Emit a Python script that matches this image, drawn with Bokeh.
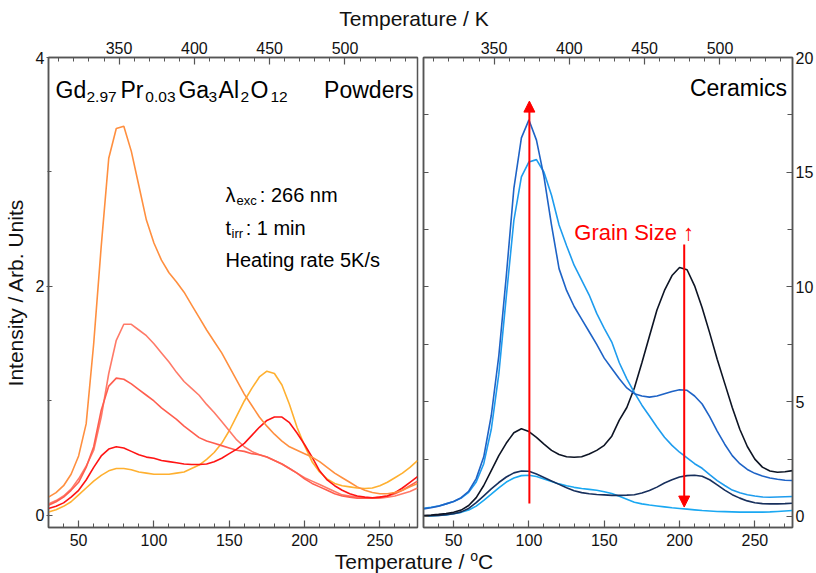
import math
from bokeh.plotting import figure
from bokeh.models import Range1d, LinearAxis, FixedTicker, Label, Arrow, NormalHead, Div
from bokeh.layouts import row, column
from bokeh.embed import file_html
from bokeh.resources import INLINE

FONT = "Liberation Sans"

# ---------------- data ----------------
temps_c = [30, 35, 40, 45, 50, 55, 60, 65, 70, 75, 80, 85, 90, 95, 100, 105, 110, 115, 120, 125,
           130, 135, 140, 145, 150, 155, 160, 165, 170, 175, 180, 185, 190, 195, 200, 205, 210, 215, 220, 225,
           230, 235, 240, 245, 250, 255, 260, 265, 270, 275]

# Powders (left panel)
powder_orange = [0.16, 0.2, 0.26, 0.36, 0.52, 0.8, 1.5, 2.35, 3.12, 3.38, 3.4, 3.18, 2.88, 2.58, 2.38, 2.23, 2.12, 2.04, 1.95, 1.84,
                 1.73, 1.62, 1.52, 1.42, 1.3, 1.18, 1.06, 0.96, 0.86, 0.78, 0.71, 0.65, 0.6, 0.57, 0.54, 0.51, 0.47, 0.42, 0.37, 0.33,
                 0.29, 0.25, 0.22, 0.2, 0.19, 0.19, 0.2, 0.22, 0.25, 0.28]
powder_salmon_a = [0.1, 0.13, 0.17, 0.23, 0.32, 0.43, 0.57, 0.86, 1.24, 1.53, 1.67, 1.67, 1.62, 1.57, 1.5, 1.42, 1.34, 1.25, 1.17, 1.11,
                   1.05, 0.97, 0.9, 0.82, 0.74, 0.66, 0.6, 0.56, 0.53, 0.51, 0.48, 0.45, 0.41, 0.37, 0.33, 0.3, 0.27, 0.24, 0.21, 0.18,
                   0.17, 0.16, 0.15, 0.15, 0.15, 0.16, 0.17, 0.19, 0.21, 0.24]
powder_salmon_b = [0.09, 0.12, 0.16, 0.22, 0.29, 0.42, 0.6, 0.92, 1.13, 1.2, 1.19, 1.15, 1.1, 1.05, 1.0, 0.94, 0.89, 0.84, 0.78, 0.73,
                   0.68, 0.65, 0.63, 0.61, 0.59, 0.57, 0.56, 0.54, 0.53, 0.51, 0.48, 0.45, 0.41, 0.37, 0.32, 0.28, 0.25, 0.22, 0.19, 0.17,
                   0.16, 0.15, 0.15, 0.15, 0.16, 0.17, 0.19, 0.22, 0.26, 0.3]
powder_red = [0.06, 0.08, 0.11, 0.16, 0.22, 0.31, 0.42, 0.52, 0.58, 0.6, 0.59, 0.56, 0.53, 0.51, 0.5, 0.48, 0.47, 0.46, 0.45, 0.445,
              0.445, 0.45, 0.47, 0.5, 0.54, 0.58, 0.63, 0.7, 0.77, 0.83, 0.86, 0.86, 0.81, 0.72, 0.62, 0.51, 0.39, 0.31, 0.26, 0.22,
              0.19, 0.17, 0.16, 0.155, 0.16, 0.17, 0.2, 0.24, 0.29, 0.34]
powder_yellow = [0.03, 0.05, 0.08, 0.12, 0.18, 0.24, 0.3, 0.35, 0.39, 0.41, 0.41, 0.4, 0.38, 0.37, 0.36, 0.36, 0.36, 0.37, 0.38, 0.41,
                 0.44, 0.49, 0.55, 0.63, 0.74, 0.87, 1.0, 1.11, 1.21, 1.26, 1.24, 1.14, 0.97, 0.77, 0.61, 0.47, 0.38, 0.32, 0.28, 0.26,
                 0.25, 0.24, 0.235, 0.24, 0.26, 0.29, 0.33, 0.37, 0.42, 0.48]

# Ceramics (right panel)
ceramic_blue = [0.33, 0.38, 0.45, 0.55, 0.65, 0.82, 1.1, 1.65, 2.6, 4.4, 7.0, 10.5, 14.3, 16.5, 17.28, 16.4, 14.8, 12.7, 10.8, 9.85,
                9.15, 8.6, 8.05, 7.5, 6.9, 6.45, 6.0, 5.6, 5.35, 5.25, 5.2, 5.25, 5.35, 5.45, 5.52, 5.5, 5.25, 4.9, 4.35, 3.72,
                3.15, 2.65, 2.3, 2.05, 1.88, 1.76, 1.68, 1.62, 1.58, 1.57]
ceramic_light = [0.36, 0.4, 0.46, 0.55, 0.65, 0.8, 1.05, 1.5, 2.3, 3.8, 6.2, 9.6, 12.9, 14.8, 15.45, 15.55, 15.0, 14.0, 12.7, 11.8,
                 10.95, 10.3, 9.65, 8.85, 8.2, 7.6, 6.7, 6.0, 5.4, 4.85, 4.38, 3.9, 3.45, 3.1, 2.8, 2.55, 2.3, 2.1, 1.82, 1.56,
                 1.35, 1.15, 1.03, 0.95, 0.89, 0.85, 0.84, 0.85, 0.86, 0.87]
ceramic_black = [0.04, 0.06, 0.09, 0.13, 0.18, 0.28, 0.48, 0.82, 1.35, 2.0, 2.65, 3.2, 3.65, 3.82, 3.7, 3.45, 3.15, 2.88, 2.7, 2.6,
                 2.58, 2.6, 2.72, 2.88, 3.1, 3.5, 4.2, 4.75, 5.6, 6.7, 7.85, 9.0, 9.85, 10.5, 10.85, 10.75, 10.05, 9.1, 8.0, 6.85,
                 5.8, 4.75, 3.8, 3.05, 2.5, 2.15, 1.98, 1.93, 1.95, 2.0]
ceramic_navy = [0.02, 0.03, 0.05, 0.08, 0.12, 0.2, 0.35, 0.6, 0.9, 1.2, 1.48, 1.72, 1.9, 1.98, 1.97, 1.85, 1.7, 1.55, 1.4, 1.25,
                1.12, 1.04, 0.99, 0.96, 0.94, 0.92, 0.92, 0.93, 0.95, 1.02, 1.13, 1.28, 1.46, 1.6, 1.72, 1.78, 1.8, 1.75, 1.6, 1.38,
                1.15, 0.95, 0.8, 0.68, 0.6, 0.56, 0.55, 0.55, 0.56, 0.58]
ceramic_cyan = [0.01, 0.02, 0.04, 0.07, 0.12, 0.18, 0.28, 0.45, 0.7, 0.97, 1.25, 1.5, 1.68, 1.78, 1.8, 1.74, 1.63, 1.52, 1.42, 1.34,
                1.27, 1.22, 1.18, 1.14, 1.08, 1.0, 0.88, 0.75, 0.62, 0.55, 0.5, 0.46, 0.42, 0.38, 0.35, 0.32, 0.29, 0.26, 0.24, 0.22,
                0.21, 0.2, 0.19, 0.19, 0.19, 0.19, 0.2, 0.22, 0.24, 0.26]

# ticks
x_ticks_c = [50, 100, 150, 200, 250]
x_minor_c = [30, 40, 60, 70, 80, 90, 110, 120, 130, 140, 160, 170, 180, 190, 210, 220, 230, 240, 260, 270]
k_ticks = [350, 400, 450, 500]
k_minor = [310, 320, 330, 340, 360, 370, 380, 390, 410, 420, 430, 440, 460, 470, 480, 490, 510, 520, 530, 540]
left_y_ticks = [0, 2, 4]
left_y_minor = [1, 3]
right_y_ticks = [0, 5, 10, 15, 20]
right_y_minor = [2.5, 7.5, 12.5, 17.5]

# arrows (right panel, data units)
arrow_up = dict(x=100.3, y0=0.57, y1=18.1)
arrow_down = dict(x=203.1, y0=11.85, y1=0.41)

C0, C1 = 30, 275
K_OFFSET = 273.15

AX_COLOR = "#555555"


def style_axis(ax, tick_in=7, tick_out=0, minor_in=4, minor_out=0, standoff=6):
    ax.axis_line_color = AX_COLOR
    ax.axis_line_width = 1.5
    ax.major_tick_line_color = AX_COLOR
    ax.major_tick_line_width = 1.2
    ax.minor_tick_line_color = AX_COLOR
    ax.minor_tick_line_width = 1.0
    ax.major_tick_in = tick_in
    ax.major_tick_out = tick_out
    ax.minor_tick_in = minor_in
    ax.minor_tick_out = minor_out
    ax.major_label_text_font = FONT
    ax.major_label_text_font_size = "16px"
    ax.major_label_text_color = "#111111"
    ax.major_label_standoff = standoff


def make_fig(width, y_range, bl, br):
    p = figure(width=width, height=523, x_range=Range1d(C0, C1), y_range=y_range,
               output_backend="svg", toolbar_location=None,
               x_axis_location=None, y_axis_location=None,
               min_border_left=bl, min_border_right=br, min_border_top=27, min_border_bottom=26)
    p.grid.visible = False
    p.outline_line_color = AX_COLOR
    p.outline_line_width = 1.5
    p.background_fill_color = "white"
    p.border_fill_color = "white"
    p.extra_x_ranges = {"K": Range1d(C0 + K_OFFSET, C1 + K_OFFSET)}
    bottom = LinearAxis(ticker=FixedTicker(ticks=x_ticks_c, minor_ticks=x_minor_c))
    style_axis(bottom, standoff=6)
    p.add_layout(bottom, "below")
    top = LinearAxis(x_range_name="K", ticker=FixedTicker(ticks=k_ticks, minor_ticks=k_minor))
    style_axis(top, standoff=4)
    p.add_layout(top, "above")
    return p


# ---------------- left panel ----------------
p1 = make_fig(420, Range1d(-0.105, 4), 48, 3)
ly = LinearAxis(ticker=FixedTicker(ticks=left_y_ticks, minor_ticks=left_y_minor),
                axis_label="Intensity / Arb. Units")
style_axis(ly, tick_in=4, tick_out=2, minor_in=3, minor_out=1, standoff=2)
ly.axis_label_text_font = FONT
ly.axis_label_text_font_size = "21px"
ly.axis_label_text_font_style = "normal"
ly.axis_label_text_color = "#111111"
ly.axis_label_standoff = 6
p1.add_layout(ly, "left")

for ys, col in [(powder_yellow, "#ffb030"), (powder_salmon_a, "#ff7a68"), (powder_salmon_b, "#ff5e4f"),
                (powder_red, "#ff1414"), (powder_orange, "#ff8f3f")]:
    p1.line(temps_c, ys, line_color=col, line_width=1.6)


def lab(p, x, y, text, size, **kw):
    kw.setdefault("text_baseline", "alphabetic")
    p.add_layout(Label(x=x, y=y, text=text, text_font=FONT, text_font_size=size,
                       text_color=kw.pop("color", "#000000"), **kw))


# formula pieces (main size / subscript)
main_y, sub_y = 3.712, 3.651
for x, y, t, s in [(34.65, main_y, "Gd", "23px"), (55.2, sub_y, "2.97", "15.5px"),
                   (77.8, main_y, "Pr", "23px"), (94.3, sub_y, "0.03", "15.5px"),
                   (116.3, main_y, "Ga", "23px"), (136.2, sub_y, "3", "15.5px"),
                   (142.9, main_y, "Al", "23px"), (157.5, sub_y, "2", "15.5px"),
                   (164.1, main_y, "O", "23px"), (177.4, sub_y, "12", "15.5px")]:
    lab(p1, x, y, t, s)
lab(p1, 272.4, 3.712, "Powders", "23px", text_align="right")

lab(p1, 147.5, 2.803, "\u03bb", "20px")
lab(p1, 154.8, 2.751, "exc", "13px")
lab(p1, 170.3, 2.803, ": 266 nm", "20px")
lab(p1, 147.5, 2.515, "t", "20px")
lab(p1, 151.5, 2.463, "irr", "13px")
lab(p1, 160.9, 2.515, ": 1 min", "20px")
lab(p1, 147.5, 2.227, "Heating rate 5K/s", "20px")

# ---------------- right panel ----------------
p2 = make_fig(396, Range1d(-0.48, 20), 3, 23)
ry = LinearAxis(ticker=FixedTicker(ticks=right_y_ticks, minor_ticks=right_y_minor))
style_axis(ry, tick_in=6, tick_out=0, minor_in=5, minor_out=0, standoff=3)
p2.add_layout(ry, "right")
lyy = LinearAxis(ticker=FixedTicker(ticks=right_y_ticks, minor_ticks=right_y_minor),
                 major_label_overrides={t: "" for t in right_y_ticks})
style_axis(lyy, tick_in=5, tick_out=0, minor_in=5, minor_out=0, standoff=0)
p2.add_layout(lyy, "left")

for ys, col in [(ceramic_cyan, "#1aa8f2"), (ceramic_navy, "#172f5c"), (ceramic_black, "#0d1424"),
                (ceramic_light, "#1e9cee"), (ceramic_blue, "#1e63c6")]:
    p2.line(temps_c, ys, line_color=col, line_width=1.6)

for a in (arrow_up, arrow_down):
    p2.add_layout(Arrow(end=NormalHead(size=11, fill_color="#ff0000", line_color="#ff0000"),
                        x_start=a["x"], y_start=a["y0"], x_end=a["x"], y_end=a["y1"],
                        line_color="#ff0000", line_width=2))

lab(p2, 271.4, 18.65, "Ceramics", "23px", text_align="right")
lab(p2, 130.1, 12.39, "Grain Size \u2191", "22px", color="#ff0000")

# ---------------- shared axis titles ----------------
title_css = ("font-family: 'Liberation Sans', Arial, sans-serif; font-size: 21px; "
             "color: #111111; text-align: center; width: 816px; box-sizing: border-box; padding-left: 12px;")
top_div = Div(text='<div style="%s line-height: 21px; padding-top: 8px;">Temperature / K</div>' % title_css,
              width=816, height=30, margin=0)
bot_div = Div(text='<div style="%s line-height: 18px; padding-top: 0px;">Temperature / '
                   '<span style="font-size: 14px; position: relative; top: -8px;">o</span>C</div>' % title_css,
              width=816, height=20, margin=0)

layout = column(top_div, row(p1, p2), bot_div)

with open("out.html", "w") as f:
    f.write(file_html(layout, INLINE))
